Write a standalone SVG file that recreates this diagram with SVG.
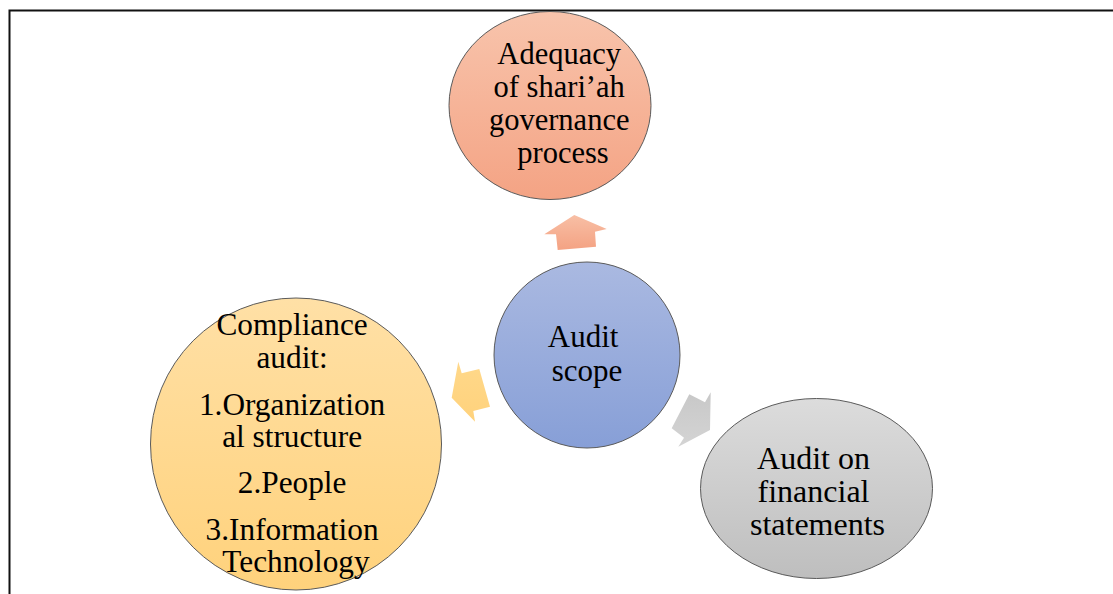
<svg xmlns="http://www.w3.org/2000/svg" width="1113" height="594" viewBox="0 0 1113 594">
  <defs>
    <linearGradient id="gOrange" x1="0" y1="0" x2="0" y2="1">
      <stop offset="0" stop-color="#F8C4AC"/>
      <stop offset="1" stop-color="#F4A384"/>
    </linearGradient>
    <linearGradient id="gBlue" x1="0" y1="0" x2="0" y2="1">
      <stop offset="0" stop-color="#AAB9E1"/>
      <stop offset="1" stop-color="#879FD7"/>
    </linearGradient>
    <linearGradient id="gGold" x1="0" y1="0" x2="0" y2="1">
      <stop offset="0" stop-color="#FFE0A6"/>
      <stop offset="1" stop-color="#FFD27C"/>
    </linearGradient>
    <linearGradient id="gGray" x1="0" y1="0" x2="0" y2="1">
      <stop offset="0" stop-color="#DCDCDC"/>
      <stop offset="1" stop-color="#BEBEBE"/>
    </linearGradient>
    <linearGradient id="gArrowOrange" x1="0" y1="0" x2="0" y2="1">
      <stop offset="0" stop-color="#F8BFA5"/>
      <stop offset="1" stop-color="#F4A283"/>
    </linearGradient>
    <linearGradient id="gArrowGold" x1="0" y1="0" x2="0" y2="1">
      <stop offset="0" stop-color="#FFD88A"/>
      <stop offset="1" stop-color="#FFD27C"/>
    </linearGradient>
    <linearGradient id="gArrowGray" x1="0" y1="0" x2="0" y2="1">
      <stop offset="0" stop-color="#C8C8C8"/>
      <stop offset="1" stop-color="#D4D4D4"/>
    </linearGradient>
  </defs>
  <style>
    .node { stroke: #5A5A5A; stroke-width: 1; }
    .label { fill: #000; text-anchor: middle; font-family: "Liberation Serif", "DejaVu Serif", serif; }
  </style>

  <!-- frame -->
  <path d="M9.5,594 V10.5 H1113" fill="none" stroke="#111" stroke-width="2"/>

  <!-- arrows radiating from the hub -->
  <g id="connectors">
    <polygon points="574.3,215 606.7,229 595,231.7 596,246.7 557.7,250 556,234.3 544.3,234.3" fill="url(#gArrowOrange)"/>
    <polygon points="458.3,361.7 461.7,373.3 479.3,369 490,406.7 473.3,411 475,421.7 451.7,397.7" fill="url(#gArrowGold)"/>
    <polygon points="710.7,392.3 705,402.3 689.3,394.3 671.7,428.3 684,437.7 678.3,446.7 710,430" fill="url(#gArrowGray)"/>
  </g>

  <g id="node-governance">
    <ellipse class="node" cx="550" cy="105.5" rx="101" ry="94" fill="url(#gOrange)"/>
    <text class="label" font-size="30.5">
      <tspan x="563" y="64">Adequacy</tspan>
      <tspan x="563" y="97">of shari’ah</tspan>
      <tspan x="563" y="130">governance</tspan>
      <tspan x="563" y="163">process</tspan>
    </text>
  </g>

  <g id="node-scope">
    <circle class="node" cx="587" cy="355" r="93" fill="url(#gBlue)"/>
    <text class="label" font-size="31">
      <tspan x="587" y="347">Audit</tspan>
      <tspan x="587" y="381">scope</tspan>
    </text>
  </g>

  <g id="node-compliance">
    <ellipse class="node" cx="296" cy="444" rx="145.5" ry="146" fill="url(#gGold)"/>
    <text class="label" font-size="31.3">
      <tspan x="296" y="335">Compliance</tspan>
      <tspan x="296" y="368">audit:</tspan>
      <tspan x="296" y="415">1.Organization</tspan>
      <tspan x="296" y="447">al structure</tspan>
      <tspan x="296" y="493">2.People</tspan>
      <tspan x="296" y="540">3.Information</tspan>
      <tspan x="296" y="572">Technology</tspan>
    </text>
  </g>

  <g id="node-financial">
    <ellipse class="node" cx="816.5" cy="488.5" rx="116" ry="90" fill="url(#gGray)"/>
    <text class="label" font-size="32">
      <tspan x="817.5" y="469">Audit on</tspan>
      <tspan x="817.5" y="502">financial</tspan>
      <tspan x="817.5" y="535">statements</tspan>
    </text>
  </g>
</svg>
